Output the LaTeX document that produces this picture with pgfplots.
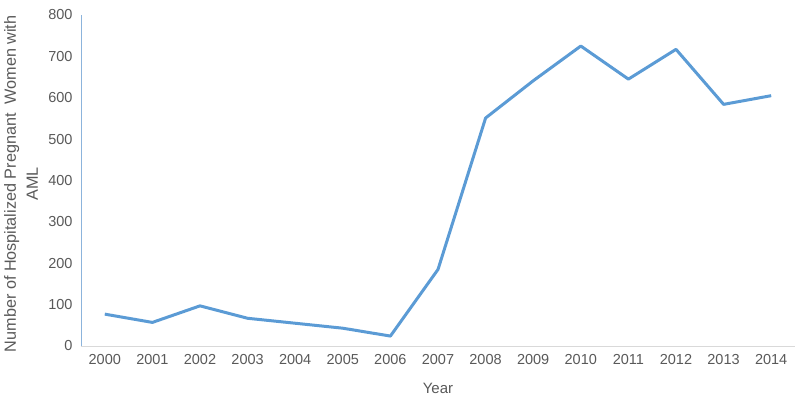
\documentclass[border=0pt]{standalone}
\usepackage{pgfplots}
\pgfplotsset{compat=1.18}
\usepackage{fontspec}
\setmainfont{Liberation Sans}
\definecolor{series}{RGB}{91,155,213}
\definecolor{txt}{RGB}{89,89,89}
\definecolor{xaxis}{RGB}{217,217,217}
\definecolor{yaxis}{RGB}{140,180,220}
\begin{document}
\begin{tikzpicture}
\begin{axis}[
  scale only axis,
  width=714pt, height=331pt,
  xmin=1999.5, xmax=2014.5,
  ymin=0, ymax=800,
  xtick={2000,...,2014},
  ytick={0,100,...,800},
  /pgf/number format/assume math mode=true,
  /pgf/number format/1000 sep={},
  tick style={draw=none},
  ticklabel style={font=\fontsize{14.5}{17}\selectfont, text=txt},
  xticklabel style={yshift=-5pt},
  yticklabel style={xshift=-5pt},
  axis x line*=bottom,
  axis y line*=left,
  x axis line style={draw=xaxis, line width=0.8pt, -},
  y axis line style={draw=yaxis, line width=0.8pt, -},
  xlabel={Year},
  xlabel style={font=\fontsize{15}{17}\selectfont, text=txt, at={(axis description cs:0.5,0)}, anchor=center, yshift=-42pt},
  ylabel={Number of Hospitalized Pregnant\ \ Women with\\AML},
  ylabel style={font=\fontsize{16.2}{22}\selectfont, text=txt, align=center, at={(axis description cs:-0.084,0.49)}, anchor=center},
  clip=false,
]
\addplot[color=series, line width=3pt, line join=round, mark=none] coordinates {
(2000,77) (2001,57) (2002,97) (2003,67) (2004,55) (2005,43) (2006,24)
(2007,185) (2008,551) (2009,641) (2010,725) (2011,645) (2012,717)
(2013,584) (2014,605)
};
\end{axis}
\path (current axis.south west) ++(-81pt,-51pt) coordinate (bl);
\path (current axis.north east) ++(5pt,15pt) coordinate (tr);
\path (bl) rectangle (tr);
\end{tikzpicture}
\end{document}
